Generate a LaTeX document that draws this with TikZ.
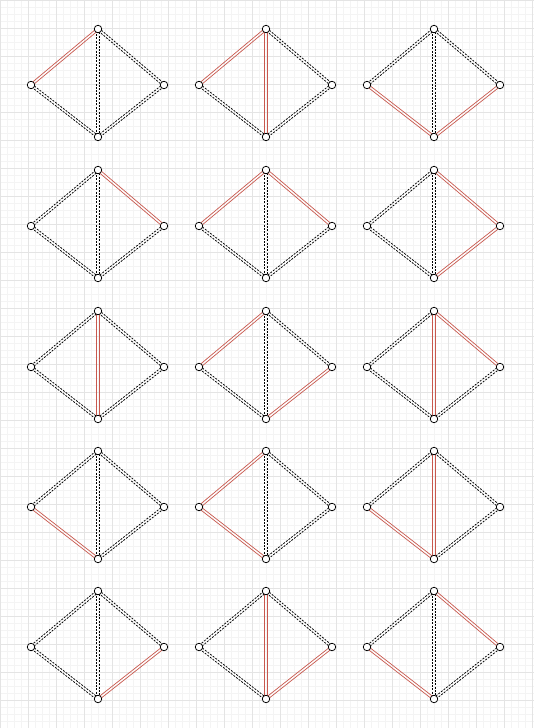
\documentclass[tikz,border=0pt]{standalone}
\usetikzlibrary{calc}
\definecolor{redline}{RGB}{200,88,78}
\definecolor{gridmajor}{RGB}{228,228,228}
\definecolor{gridminor}{RGB}{244,244,244}
\newcommand\dbledge[3]{%
  \draw[#1] ($(#2)!1.25pt!90:(#3)$) -- ($(#3)!1.25pt!-90:(#2)$);
  \draw[#1,dash phase=1.6pt] ($(#2)!1.25pt!-90:(#3)$) -- ($(#3)!1.25pt!90:(#2)$);}
\begin{document}
\begin{tikzpicture}[x=1pt,y=-1pt,
  vtx/.style={circle,draw=black,fill=white,line width=0.75pt,minimum size=7.5pt,inner sep=0pt},
  plain/.style={draw=black,line width=0.75pt,dash pattern=on 2pt off 1.3pt},
  hot/.style={draw=redline,line width=0.7pt}]
\useasboundingbox (0,0) rectangle (534,728);
\fill[white] (0,0) rectangle (534,728);
\draw[gridminor,line width=0.5pt,xstep=7pt,ystep=7pt] (0,0) grid (534,728);
\draw[gridmajor,line width=0.7pt,xstep=28pt,ystep=28pt] (0,0) grid (534,728);
\foreach \r/\ty in {1/29,2/170,3/311,4/451,5/591}{
  \foreach \c/\cx in {1/98,2/266,3/434}{
    \coordinate (T\r\c) at (\cx,\ty);
    \coordinate (L\r\c) at (\cx-67,\ty+56);
    \coordinate (R\r\c) at (\cx+66,\ty+56);
    \coordinate (B\r\c) at (\cx,\ty+108);
  }
}
\foreach \r/\c/\ee/\ea/\eb/\ec/\ed in {
  1/1/plain/hot/plain/plain/plain,
  1/2/hot/hot/plain/plain/plain,
  1/3/plain/plain/plain/hot/hot,
  2/1/plain/plain/hot/plain/plain,
  2/2/plain/hot/hot/plain/plain,
  2/3/plain/plain/hot/plain/hot,
  3/1/hot/plain/plain/plain/plain,
  3/2/plain/hot/plain/plain/hot,
  3/3/hot/plain/hot/plain/plain,
  4/1/plain/plain/plain/hot/plain,
  4/2/plain/hot/plain/hot/plain,
  4/3/hot/plain/plain/hot/plain,
  5/1/plain/plain/plain/plain/hot,
  5/2/hot/plain/plain/plain/hot,
  5/3/plain/plain/hot/hot/plain}{
  \dbledge{\ee}{T\r\c}{B\r\c}
  \dbledge{\ea}{T\r\c}{L\r\c}
  \dbledge{\eb}{T\r\c}{R\r\c}
  \dbledge{\ec}{L\r\c}{B\r\c}
  \dbledge{\ed}{B\r\c}{R\r\c}
}
\foreach \r in {1,...,5}{
  \foreach \c in {1,2,3}{
    \node[vtx] (nT\r\c) at (T\r\c) {};
    \node[vtx] (nL\r\c) at (L\r\c) {};
    \node[vtx] (nR\r\c) at (R\r\c) {};
    \node[vtx] (nB\r\c) at (B\r\c) {};
  }
}
\end{tikzpicture}
\end{document}
